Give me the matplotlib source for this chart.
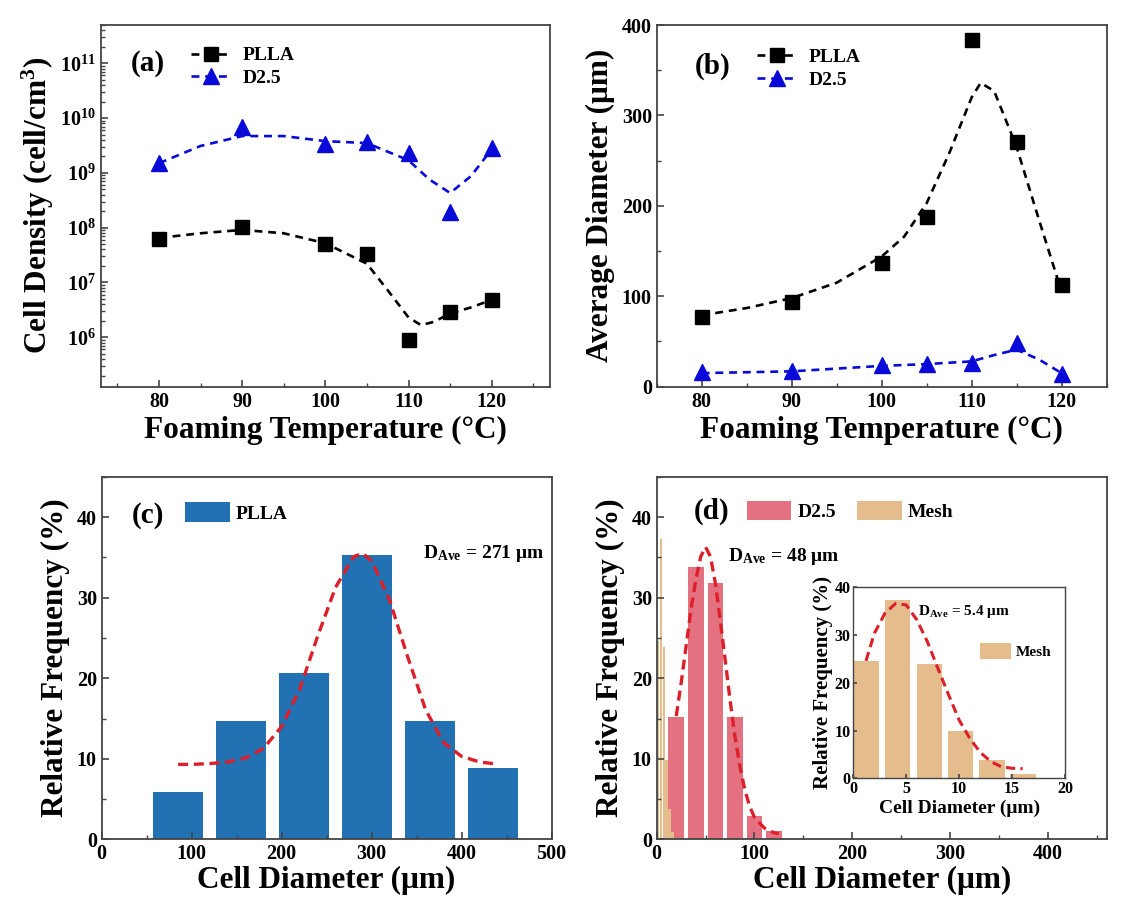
import numpy as np
import matplotlib
matplotlib.use('Agg')
import matplotlib.pyplot as plt
from matplotlib.lines import Line2D
from matplotlib.ticker import MultipleLocator, LogLocator, FuncFormatter, NullFormatter, NullLocator

plt.rcParams['font.family'] = ['Liberation Serif', 'DejaVu Serif']
plt.rcParams['font.weight'] = 'bold'
plt.rcParams['axes.labelweight'] = 'bold'
plt.rcParams['mathtext.fontset'] = 'custom'
plt.rcParams['mathtext.rm'] = 'Liberation Serif:bold'
plt.rcParams['mathtext.bf'] = 'Liberation Serif:bold'
plt.rcParams['mathtext.it'] = 'Liberation Serif:bold:italic'

# ---- data ----
temps = [80, 90, 100, 105, 110, 115, 120]
dens_plla = [6.3e7, 1.05e8, 5.0e7, 3.3e7, 9.0e5, 2.9e6, 4.8e6]
dens_d25 = [1.5e9, 6.9e9, 3.4e9, 3.7e9, 2.3e9, 1.9e8, 2.9e9]
diam_plla = [77, 94, 137, 188, 383, 271, 112]
diam_d25 = [16, 17, 24, 25, 26, 48, 14]

# dashed guide curves (a)
guide_t_plla_a = [80, 85, 90, 95, 100, 105, 107.5, 110, 111.5, 113, 115, 117.5, 120]
guide_plla_a = [6.5e7, 7.9e7, 9.1e7, 7.9e7, 5.2e7, 2.2e7, 7.2e6, 2.3e6, 1.66e6, 1.9e6, 2.7e6, 3.5e6, 4.8e6]
guide_t_d25_a = [80, 85, 90, 95, 100, 105, 110, 112.5, 115, 117.5, 120]
guide_d25_a = [1.5e9, 3.1e9, 4.7e9, 4.7e9, 3.8e9, 3.5e9, 1.7e9, 7.6e8, 4.3e8, 8.7e8, 2.7e9]

# dashed guide curves (b)
guide_t_plla_b = [80, 85, 90, 95, 100, 102.5, 105, 107.5, 110, 111, 112.5, 115, 117.5, 120]
guide_plla_b = [79, 87, 98, 115, 144, 166, 203, 258, 320, 336, 327, 265, 184, 105]
guide_t_d25_b = [80, 90, 100, 105, 110, 112.5, 115, 117.5, 120]
guide_d25_b = [15, 17, 23, 25, 28, 35, 41, 30, 15]

# (c) PLLA histogram + fit
plla_bins = [85, 155, 225, 295, 365, 435]
plla_freq = [5.9, 14.7, 20.6, 35.3, 14.7, 8.8]
plla_fit_x = [85, 100, 120, 140, 160, 180, 200, 220, 240, 260, 280, 290, 300, 320, 340, 360, 380, 400, 420, 435]
plla_fit_y = [9.3, 9.3, 9.4, 9.6, 10.1, 11.3, 14.0, 18.6, 25.2, 31.3, 35.1, 35.5, 34.6, 29.7, 22.7, 16.1, 12.0, 10.3, 9.6, 9.4]

# (d) D2.5 histogram + fit
d25_bins = [20, 40, 60, 80, 100, 120]
d25_freq = [15.2, 33.8, 31.8, 15.2, 2.9, 1.0]
d25_fit_x = [20, 25, 30, 35, 40, 45, 50, 55, 60, 65, 70, 75, 80, 85, 90, 95, 100, 110, 120, 125]
d25_fit_y = [15.3, 19.4, 23.9, 28.5, 32.2, 35.1, 36.3, 35.1, 31.8, 27.2, 22.3, 17.3, 12.8, 9.1, 6.2, 4.1, 2.7, 1.4, 0.8, 0.7]

# Mesh histogram + fit (inset)
mesh_bins = [1.2, 4.2, 7.2, 10.15, 13.1, 16.05]
mesh_freq = [24.6, 37.3, 23.9, 9.8, 3.8, 0.9]
mesh_fit_x = [1.2, 2, 3, 4, 5, 6, 7, 8, 9, 10, 11, 12, 13, 14, 15, 16]
mesh_fit_y = [24.6, 30.4, 34.6, 36.6, 36.3, 33.2, 28.6, 23.0, 17.5, 12.2, 8.4, 5.4, 3.5, 2.4, 2.1, 2.0]

c_blue = '#2271b3'
c_pink = '#e4717f'
c_tan = '#e5bc8c'
c_red = '#dc1f2a'
c_tri = '#0a0ad8'
spine_c = '#444444'
LAB = 22.5
TICK = 14.5

fig = plt.figure(figsize=(11.26, 9.24), dpi=100)
ax_a = fig.add_axes([0.0894, 0.5815, 0.3990, 0.3914])
ax_b = fig.add_axes([0.5832, 0.5815, 0.3996, 0.3914])
ax_c = fig.add_axes([0.0903, 0.0917, 0.3995, 0.3921])
ax_d = fig.add_axes([0.5832, 0.0917, 0.3996, 0.3921])
ax_in = fig.add_axes([0.7578, 0.1577, 0.1880, 0.2067])


def style(ax, lsize=TICK):
    for s in ax.spines.values():
        s.set_color(spine_c)
        s.set_linewidth(1.3)
    ax.tick_params(which='both', direction='in', top=False, right=False,
                   color=spine_c, labelsize=lsize)
    ax.tick_params(which='major', length=5, width=1.2)
    ax.tick_params(which='minor', length=3, width=1.0)


guide_kw = dict(color='black', lw=1.9, ls=(0, (3, 2.2)))
# ---- (a) ----
ax_a.plot(guide_t_plla_a, guide_plla_a, **guide_kw)
ax_a.plot(guide_t_d25_a, guide_d25_a, **dict(guide_kw, color=c_tri))
ax_a.plot(temps, dens_plla, 's', color='black', ms=9.5)
ax_a.plot(temps, dens_d25, '^', color=c_tri, ms=11)
ax_a.set_yscale('log')
ax_a.set_ylim(1.25e5, 5e11)
ax_a.set_xlim(73, 127)
ax_a.xaxis.set_major_locator(MultipleLocator(10))
ax_a.xaxis.set_minor_locator(MultipleLocator(5))
ax_a.yaxis.set_major_locator(LogLocator(base=10, numticks=20))
ax_a.yaxis.set_minor_locator(LogLocator(base=10, subs=np.arange(2, 10), numticks=20))
ax_a.yaxis.set_minor_formatter(NullFormatter())
ax_a.yaxis.set_major_formatter(FuncFormatter(lambda v, p: '10$^{%d}$' % round(np.log10(v))))
style(ax_a)
ax_a.set_xlabel('Foaming Temperature (°C)', fontsize=LAB, labelpad=3)
ax_a.set_ylabel('Cell Density (cell/cm$^{3}$)', fontsize=LAB, labelpad=3)
ax_a.text(0.105, 0.895, '(a)', transform=ax_a.transAxes, fontsize=21, ha='center', va='center')
h_a = [Line2D([], [], marker='s', ms=9.5, color='black', lw=1.9, ls=(0, (3, 2.2))),
       Line2D([], [], marker='^', ms=11, color=c_tri, lw=1.9, ls=(0, (3, 2.2)))]
ax_a.legend(h_a, ['PLLA', 'D2.5'], loc='upper left', bbox_to_anchor=(0.2, 0.94), frameon=False,
            fontsize=14, handlelength=2.1, handletextpad=0.6, labelspacing=0.25,
            borderpad=0, borderaxespad=0, numpoints=1)

# ---- (b) ----
ax_b.plot(guide_t_plla_b, guide_plla_b, **guide_kw)
ax_b.plot(guide_t_d25_b, guide_d25_b, **dict(guide_kw, color=c_tri))
ax_b.plot(temps, diam_plla, 's', color='black', ms=9.5)
ax_b.plot(temps, diam_d25, '^', color=c_tri, ms=11)
ax_b.set_xlim(75, 125)
ax_b.set_ylim(0, 400)
ax_b.xaxis.set_major_locator(MultipleLocator(10))
ax_b.xaxis.set_minor_locator(MultipleLocator(5))
ax_b.yaxis.set_major_locator(MultipleLocator(100))
ax_b.yaxis.set_minor_locator(MultipleLocator(50))
style(ax_b)
ax_b.set_xlabel('Foaming Temperature (°C)', fontsize=LAB, labelpad=3)
ax_b.set_ylabel('Average Diameter (μm)', fontsize=LAB, labelpad=5)
ax_b.text(0.124, 0.885, '(b)', transform=ax_b.transAxes, fontsize=21, ha='center', va='center')
ax_b.legend(h_a, ['PLLA', 'D2.5'], loc='upper left', bbox_to_anchor=(0.222, 0.935), frameon=False,
            fontsize=14, handlelength=2.1, handletextpad=0.6, labelspacing=0.25,
            borderpad=0, borderaxespad=0, numpoints=1)

fit_kw = dict(color=c_red, lw=2.4, ls=(0, (3, 1.7)))
# ---- (c) ----
ax_c.bar(plla_bins, plla_freq, width=56, color=c_blue, label='PLLA')
ax_c.plot(plla_fit_x, plla_fit_y, **fit_kw)
ax_c.set_xlim(0, 500)
ax_c.set_ylim(0, 45)
ax_c.xaxis.set_major_locator(MultipleLocator(100))
ax_c.xaxis.set_minor_locator(MultipleLocator(50))
ax_c.yaxis.set_major_locator(MultipleLocator(10))
ax_c.yaxis.set_minor_locator(MultipleLocator(5))
style(ax_c)
ax_c.set_xlabel('Cell Diameter (μm)', fontsize=LAB, labelpad=1)
ax_c.set_ylabel('Relative Frequency (%)', fontsize=LAB, labelpad=5)
ax_c.text(0.103, 0.895, '(c)', transform=ax_c.transAxes, fontsize=21, ha='center', va='center')
ax_c.text(0.985, 0.79, r'D$_{\mathrm{Ave}}$ = 271 μm', transform=ax_c.transAxes, fontsize=14,
          ha='right', va='center')
ax_c.legend(loc='upper left', bbox_to_anchor=(0.185, 0.93), frameon=False, fontsize=14,
            handlelength=2.3, handleheight=1.15, handletextpad=0.3, borderpad=0, borderaxespad=0)

# ---- (d) ----
ax_d.bar(d25_bins, d25_freq, width=16, color=c_pink, label='D2.5')
ax_d.bar(mesh_bins, mesh_freq, width=2.4, color=c_tan, label='Mesh')
ax_d.plot(d25_fit_x, d25_fit_y, **fit_kw)
ax_d.set_xlim(0, 460)
ax_d.set_ylim(0, 45)
ax_d.xaxis.set_major_locator(MultipleLocator(100))
ax_d.xaxis.set_minor_locator(MultipleLocator(50))
ax_d.yaxis.set_major_locator(MultipleLocator(10))
ax_d.yaxis.set_minor_locator(MultipleLocator(5))
style(ax_d)
ax_d.set_xlabel('Cell Diameter (μm)', fontsize=LAB, labelpad=1)
ax_d.set_ylabel('Relative Frequency (%)', fontsize=LAB, labelpad=5)
ax_d.text(0.123, 0.904, '(d)', transform=ax_d.transAxes, fontsize=21, ha='center', va='center')
ax_d.text(0.158, 0.78, r'D$_{\mathrm{Ave}}$ = 48 μm', transform=ax_d.transAxes, fontsize=14,
          ha='left', va='center')
ax_d.legend(loc='upper left', bbox_to_anchor=(0.2, 0.935), frameon=False, fontsize=14, ncol=2,
            handlelength=2.3, handleheight=1.15, handletextpad=0.3, columnspacing=1.1,
            borderpad=0, borderaxespad=0)

# ---- inset ----
ax_in.bar(mesh_bins, mesh_freq, width=2.4, color=c_tan, label='Mesh')
ax_in.plot(mesh_fit_x, mesh_fit_y, color=c_red, lw=2.2, ls=(0, (3, 1.7)))
ax_in.set_xlim(0, 20)
ax_in.set_ylim(0, 40)
ax_in.xaxis.set_major_locator(MultipleLocator(5))
ax_in.yaxis.set_major_locator(MultipleLocator(10))
ax_in.xaxis.set_minor_locator(NullLocator())
style(ax_in, lsize=11.5)
ax_in.tick_params(which='major', length=3, pad=2)
for s in ax_in.spines.values():
    s.set_linewidth(1.0)
ax_in.set_xlabel('Cell Diameter (μm)', fontsize=14, labelpad=2)
ax_in.set_ylabel('Relative Frequency (%)', fontsize=15, labelpad=1)
ax_in.text(0.306, 0.872, r'D$_{\mathrm{Ave}}$ = 5.4 μm', transform=ax_in.transAxes, fontsize=11,
           ha='left', va='center')
ax_in.legend(loc='center left', bbox_to_anchor=(0.6, 0.667), frameon=False, fontsize=11,
             handlelength=2.0, handleheight=1.2, handletextpad=0.3, borderpad=0, borderaxespad=0)

fig.savefig('out.png', dpi=100)
